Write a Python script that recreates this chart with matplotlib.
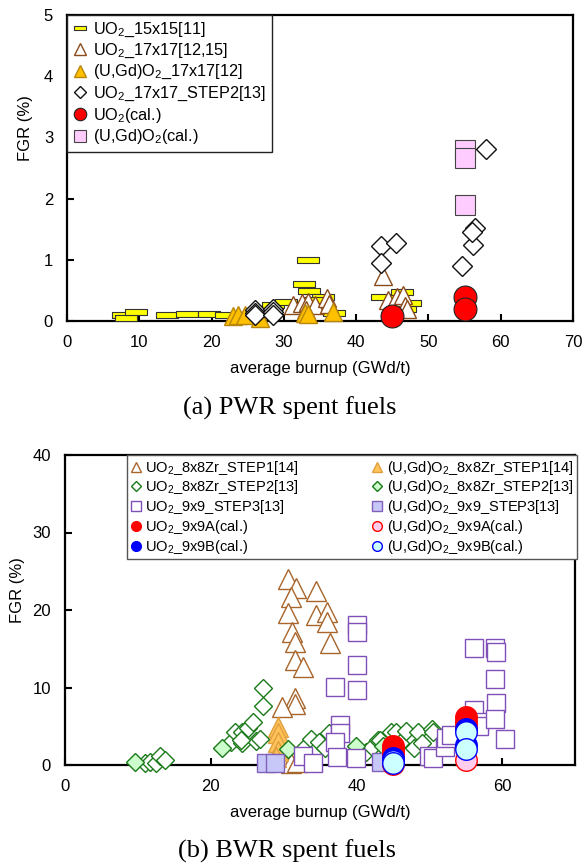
import matplotlib
matplotlib.use("Agg")
import matplotlib.pyplot as plt
from matplotlib.lines import Line2D

plt.rcParams['font.family'] = ['Liberation Sans', 'DejaVu Sans']
plt.rcParams['mathtext.fontset'] = 'custom'
plt.rcParams['mathtext.rm'] = 'Liberation Sans'
plt.rcParams['mathtext.it'] = 'Liberation Sans:italic'
plt.rcParams['mathtext.bf'] = 'Liberation Sans:bold'

# ---------------- (a) PWR data ----------------
pwr_15_x = [7.8, 8.1, 9.6, 13.8, 16.6, 19.7, 22.0, 28.5, 30.3, 32.8, 33.3, 33.5, 35.4, 34.0, 37.0, 43.6, 46.4, 47.5, 45.2, 46.8]
pwr_15_y = [0.09, 0.05, 0.14, 0.10, 0.11, 0.12, 0.10, 0.26, 0.31, 0.60, 1.00, 0.49, 0.40, 0.34, 0.13, 0.40, 0.48, 0.29, 0.24, 0.20]

pwr_17_x = [31.3, 32.5, 33.4, 34.3, 35.9, 36.3, 33.0, 43.7, 44.4, 45.6, 46.5, 46.8, 47.0]
pwr_17_y = [0.26, 0.29, 0.31, 0.26, 0.38, 0.28, 0.18, 0.74, 0.34, 0.40, 0.42, 0.25, 0.20]

pwr_gd_x = [23.0, 23.6, 24.6, 26.7, 32.9, 33.4, 36.8]
pwr_gd_y = [0.08, 0.09, 0.10, 0.05, 0.13, 0.12, 0.14]

pwr_s2_x = [26.0, 26.0, 26.0, 28.5, 28.5, 28.5, 43.5, 43.5, 45.5, 54.6, 56.1, 56.4, 56.0, 58.0]
pwr_s2_y = [0.18, 0.13, 0.09, 0.19, 0.14, 0.09, 1.22, 0.95, 1.28, 0.90, 1.24, 1.52, 1.45, 2.81]

pwr_uo2cal_x = [45.0, 55.0, 55.0]
pwr_uo2cal_y = [0.08, 0.40, 0.19]

pwr_gdcal_x = [55.0, 55.0, 55.0]
pwr_gdcal_y = [2.79, 2.67, 1.90]

# ---------------- (b) BWR data ----------------
bwr_s1_x = [30.6, 31.7, 31.0, 30.6, 31.2, 31.5, 31.5, 32.6, 34.5, 34.4, 35.9, 35.9, 36.4, 31.6, 31.6, 29.8, 30.5, 31.0, 31.8]
bwr_s1_y = [24.0, 22.8, 21.7, 19.6, 17.2, 15.9, 13.6, 12.6, 22.4, 19.4, 19.8, 18.5, 15.7, 8.6, 7.9, 7.5, 0.5, 0.3, 0.4]

bwr_s1gd_x = [29.2, 29.2, 29.2, 29.2, 29.0]
bwr_s1gd_y = [4.9, 4.1, 3.0, 1.8, 1.0]

bwr_s2_x = [11.0, 11.6, 12.5, 13.0, 13.7, 22.8, 23.3, 24.3, 24.3, 25.1, 25.8, 26.2, 26.7, 27.2, 27.2, 24.2,
            32.9, 33.8, 34.0, 34.9, 35.7, 36.3, 41.3, 42.2, 42.9, 43.2, 44.7, 45.4, 46.0, 46.8, 47.9, 48.4,
            49.0, 50.4, 50.5]
bwr_s2_y = [0.3, 0.4, 0.2, 1.2, 0.6, 3.0, 4.3, 4.2, 2.9, 4.8, 5.5, 3.1, 3.4, 10.0, 7.6, 3.2,
            2.3, 3.4, 1.5, 3.0, 2.2, 4.1, 1.7, 2.3, 3.2, 3.2, 4.2, 4.2, 2.8, 4.4, 2.2, 4.2,
            2.8, 4.6, 4.3]

bwr_s2gd_x = [9.6, 21.5, 30.6, 40.0, 43.6]
bwr_s2gd_y = [0.4, 2.2, 2.1, 2.4, 2.5]

bwr_s3_x = [40.1, 40.1, 40.1, 37.0, 40.1, 37.8, 37.8, 37.0, 32.6, 34.1, 37.3, 40.0, 50.0, 50.5, 52.1, 52.3,
            53.0, 56.1, 56.8, 56.8, 56.1, 59.0, 59.1, 59.0, 59.1, 59.0, 60.4]
bwr_s3_y = [18.1, 17.1, 12.9, 10.1, 9.7, 5.2, 4.1, 3.0, 1.1, 0.2, 1.0, 0.9, 1.2, 0.95, 2.3, 3.5,
            3.9, 7.1, 5.6, 5.0, 15.1, 15.1, 14.6, 11.1, 8.0, 5.9, 3.3]

bwr_s3gd_x = [27.6, 28.8, 43.4]
bwr_s3gd_y = [0.2, 0.2, 0.4]

bwr_a_x = [45.0, 45.0, 45.0, 55.0, 55.0, 55.0]
bwr_a_y = [2.4, 1.9, 1.4, 6.2, 5.6, 4.9]
bwr_agd_x = [45.0, 55.0]
bwr_agd_y = [0.1, 0.6]
bwr_b_x = [45.0, 45.0, 55.0, 55.0]
bwr_b_y = [0.9, 0.5, 4.6, 2.6]
bwr_bgd_x = [45.0, 45.0, 55.0, 55.0]
bwr_bgd_y = [0.5, 0.2, 4.3, 2.1]

# ---------------- figure ----------------
W, H = 587, 865
fig = plt.figure(figsize=(W / 100, H / 100), dpi=100)

def ax_rect(l, t, r, b):
    return [l / W, 1 - b / H, (r - l) / W, (b - t) / H]

ax1 = fig.add_axes(ax_rect(67, 15, 573, 321))
ax2 = fig.add_axes(ax_rect(65, 455, 575, 765))

dash = [(-1, -0.26), (1, -0.26), (1, 0.26), (-1, 0.26), (-1, -0.26)]

def pts(ax, x, y, z, **kw):
    ax.plot(x, y, ls='none', clip_on=False, zorder=z, **kw)

# (a)
pts(ax1, pwr_15_x, pwr_15_y, 3, marker=dash, ms=16.5, mfc='#FFFF00', mec='#333333', mew=0.8)
pts(ax1, pwr_17_x, pwr_17_y, 4, marker='^', ms=13.5, mfc='white', mec='#8B4A1A', mew=1.0)
pts(ax1, pwr_gd_x, pwr_gd_y, 5, marker='^', ms=13.5, mfc='#FFC000', mec='#B8860B', mew=1.0)
pts(ax1, pwr_s2_x, pwr_s2_y, 6, marker='D', ms=9.7, mfc='white', mec='#111111', mew=1.0)
pts(ax1, pwr_uo2cal_x, pwr_uo2cal_y, 7, marker='o', ms=16.5, mfc='#FF0000', mec='#222222', mew=0.8)
pts(ax1, pwr_gdcal_x, pwr_gdcal_y, 8, marker='s', ms=15, mfc='#FFCCFF', mec='#444444', mew=0.8)

ax1.set_xlim(0, 70)
ax1.set_ylim(0, 5)
ax1.set_xticks(range(0, 71, 10))
ax1.set_yticks(range(0, 6))

h1 = [
    Line2D([], [], ls='none', marker=dash, ms=9, mfc='#FFFF00', mec='#333333', mew=0.8),
    Line2D([], [], ls='none', marker='^', ms=8, mfc='white', mec='#8B4A1A', mew=1.0),
    Line2D([], [], ls='none', marker='^', ms=8, mfc='#FFC000', mec='#B8860B', mew=1.0),
    Line2D([], [], ls='none', marker='D', ms=6, mfc='white', mec='#111111', mew=1.0),
    Line2D([], [], ls='none', marker='o', ms=9, mfc='#FF0000', mec='#222222', mew=0.8),
    Line2D([], [], ls='none', marker='s', ms=8, mfc='#FFCCFF', mec='#444444', mew=0.8),
]
l1 = ['UO$_2$_15x15[11]', 'UO$_2$_17x17[12,15]', '(U,Gd)O$_2$_17x17[12]',
      'UO$_2$_17x17_STEP2[13]', 'UO$_2$(cal.)', '(U,Gd)O$_2$(cal.)']
leg1 = ax1.legend(h1, l1, loc='upper left', bbox_to_anchor=(0, 1), borderaxespad=0,
                  fontsize=11.7, frameon=True, fancybox=False, framealpha=1,
                  edgecolor='#222222', handlelength=0.9, handletextpad=0.35,
                  labelspacing=0.18, borderpad=0.35)
leg1.get_frame().set_linewidth(1.0)

# (b)
pts(ax2, bwr_s1_x, bwr_s1_y, 3, marker='^', ms=14, mfc='white', mec='#A8662C', mew=1.0)
pts(ax2, bwr_s1gd_x, bwr_s1gd_y, 4, marker='^', ms=14, mfc='#FFC35A', mec='#E0A040', mew=1.0)
pts(ax2, bwr_s2_x, bwr_s2_y, 5, marker='D', ms=8.7, mfc='white', mec='#1A7A1A', mew=1.0)
pts(ax2, bwr_s2gd_x, bwr_s2gd_y, 6, marker='D', ms=8.7, mfc='#CCFFCC', mec='#1A7A1A', mew=1.0)
pts(ax2, bwr_s3_x, bwr_s3_y, 7, marker='s', ms=12.5, mfc='white', mec='#8050B8', mew=1.0)
pts(ax2, bwr_s3gd_x, bwr_s3gd_y, 8, marker='s', ms=12.5, mfc='#C8C8F8', mec='#8060B8', mew=1.0)
pts(ax2, bwr_a_x, bwr_a_y, 9, marker='o', ms=15.5, mfc='#FF0000', mec='#FF0000', mew=1.0)
pts(ax2, bwr_agd_x, bwr_agd_y, 10, marker='o', ms=15.5, mfc='#FFCCEE', mec='#FF0000', mew=1.0)
pts(ax2, bwr_b_x, bwr_b_y, 11, marker='o', ms=15.5, mfc='#0000FF', mec='#0000FF', mew=1.0)
pts(ax2, bwr_bgd_x, bwr_bgd_y, 12, marker='o', ms=15.5, mfc='#CCFFFF', mec='#0000FF', mew=1.0)

ax2.set_xlim(0, 70)
ax2.set_ylim(0, 40)
ax2.set_xticks(range(0, 61, 20))
ax2.set_yticks(range(0, 41, 10))

h2 = [
    Line2D([], [], ls='none', marker='^', ms=7, mfc='white', mec='#A8662C', mew=1.0),
    Line2D([], [], ls='none', marker='D', ms=5, mfc='white', mec='#1A7A1A', mew=1.0),
    Line2D([], [], ls='none', marker='s', ms=7, mfc='white', mec='#8050B8', mew=1.0),
    Line2D([], [], ls='none', marker='o', ms=7, mfc='#FF0000', mec='#FF0000', mew=1.0),
    Line2D([], [], ls='none', marker='o', ms=7, mfc='#0000FF', mec='#0000FF', mew=1.0),
    Line2D([], [], ls='none', marker='^', ms=7, mfc='#FFC35A', mec='#E0A040', mew=1.0),
    Line2D([], [], ls='none', marker='D', ms=5, mfc='#CCFFCC', mec='#1A7A1A', mew=1.0),
    Line2D([], [], ls='none', marker='s', ms=7, mfc='#C8C8F8', mec='#8060B8', mew=1.0),
    Line2D([], [], ls='none', marker='o', ms=7, mfc='#FFCCEE', mec='#FF0000', mew=1.0),
    Line2D([], [], ls='none', marker='o', ms=7, mfc='#CCFFFF', mec='#0000FF', mew=1.0),
]
l2 = ['UO$_2$_8x8Zr_STEP1[14]', 'UO$_2$_8x8Zr_STEP2[13]', 'UO$_2$_9x9_STEP3[13]',
      'UO$_2$_9x9A(cal.)', 'UO$_2$_9x9B(cal.)',
      '(U,Gd)O$_2$_8x8Zr_STEP1[14]', '(U,Gd)O$_2$_8x8Zr_STEP2[13]', '(U,Gd)O$_2$_9x9_STEP3[13]',
      '(U,Gd)O$_2$_9x9A(cal.)', '(U,Gd)O$_2$_9x9B(cal.)']
leg2 = ax2.legend(h2, l2, ncol=2, mode='expand', loc='upper left',
                  bbox_to_anchor=(0.1216, 0.0, 0.8824, 1.0), borderaxespad=0,
                  fontsize=10.5, frameon=True, fancybox=False, framealpha=1,
                  edgecolor='#555555', handlelength=0.7, handletextpad=0.3,
                  labelspacing=0.12, borderpad=0.25, columnspacing=1.0)
leg2.get_frame().set_linewidth(1.0)

for ax in (ax1, ax2):
    for s in ax.spines.values():
        s.set_linewidth(1.6)
        s.set_color('black')
    ax.tick_params(direction='in', length=5, width=1.5, labelsize=12, pad=10,
                   top=False, right=False)
    ax.set_xlabel('average burnup (GWd/t)', fontsize=12, labelpad=8)
    ax.set_ylabel('FGR (%)', fontsize=12)

ax1.yaxis.set_label_coords(-0.068, 0.63)
ax2.yaxis.set_label_coords(-0.078, 0.565)

fig.text(290 / W, 1 - 408 / H, '(a) PWR spent fuels', ha='center', va='center',
         fontsize=19, family=['Liberation Serif', 'DejaVu Serif'])
fig.text(287 / W, 1 - 851 / H, '(b) BWR spent fuels', ha='center', va='center',
         fontsize=19, family=['Liberation Serif', 'DejaVu Serif'])

fig.savefig('out.png', dpi=100)
